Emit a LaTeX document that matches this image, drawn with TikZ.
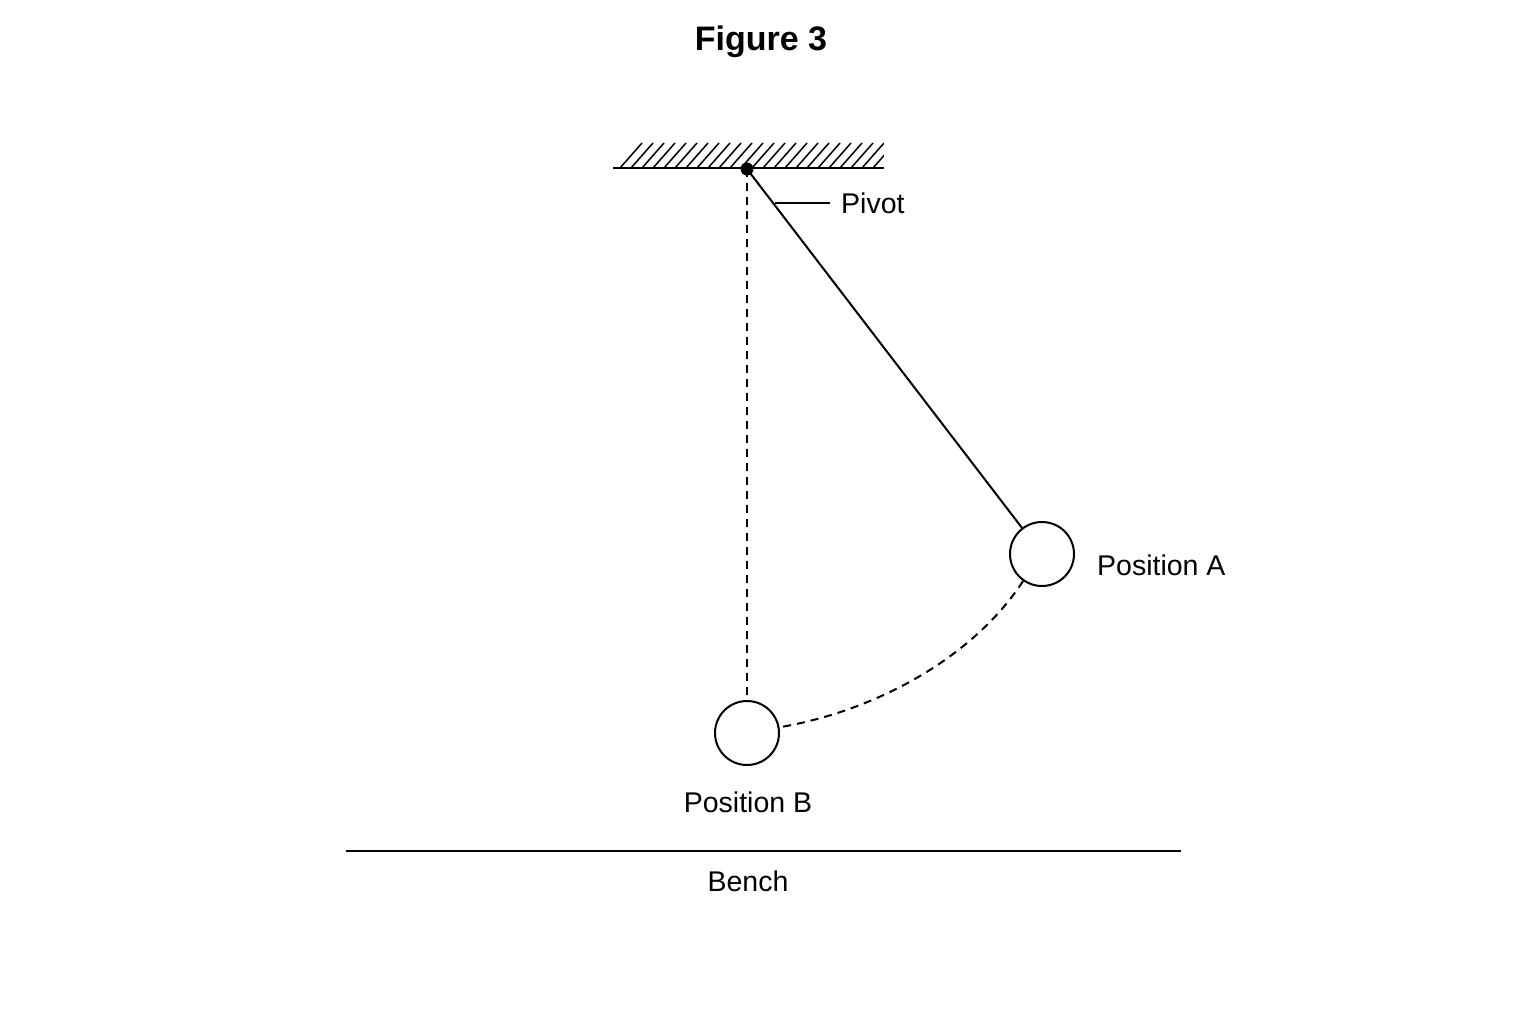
\documentclass[tikz,border=0pt]{standalone}
\usepackage{fontspec}
\setmainfont{Liberation Sans}
\begin{document}
\begin{tikzpicture}[x=1pt,y=-1pt,
  lbl/.style={font=\fontsize{28.5}{31}\selectfont, inner sep=0pt},
  ball/.style={circle, draw, line width=2pt, minimum size=64pt, inner sep=0pt},
  ln/.style={line width=2pt},
  dsh/.style={line width=2pt, dash pattern=on 8pt off 6pt}]
\useasboundingbox (0,0) rectangle (1536,1024);
\node[font=\bfseries\fontsize{34}{37}\selectfont] (title) at (761,42) {Figure 3};
% ceiling
\coordinate (cl) at (613,168);
\coordinate (cr) at (884,168);
\foreach \x in {620,631,...,880} \draw[line width=1.5pt] (\x,168) -- (\x+22,143);
\fill[white] (600,130) rectangle (616,170);
\fill[white] (884,130) rectangle (910,170);
\draw[ln] (cl) -- (cr);
\node[circle, fill, minimum size=13pt, inner sep=0pt] (pivot) at (747,169) {};
\node[ball] (B) at (747,733) {};
\node[ball] (A) at (1042,554) {};
\draw[ln] (pivot.center) -- (A);
\draw[dsh] (pivot.center) -- (B);
\draw[dsh] (A.235) .. controls (975,655) and (880,710) .. (B.10);
% labels
\coordinate (pl) at (775,203);
\coordinate (pr) at (830,203);
\draw[line width=1.5pt] (pl) -- (pr);
\node[lbl, anchor=west] (pivlbl) at (841,203) {Pivot};
\node[lbl, anchor=west] (posA) at (1097,565) {Position A};
\node[lbl] (posB) at (748,802) {Position B};
\coordinate (bl) at (346,851);
\coordinate (br) at (1181,851);
\draw[line width=2.5pt] (bl) -- (br);
\node[lbl] (bench) at (748,881) {Bench};
\end{tikzpicture}
\end{document}
